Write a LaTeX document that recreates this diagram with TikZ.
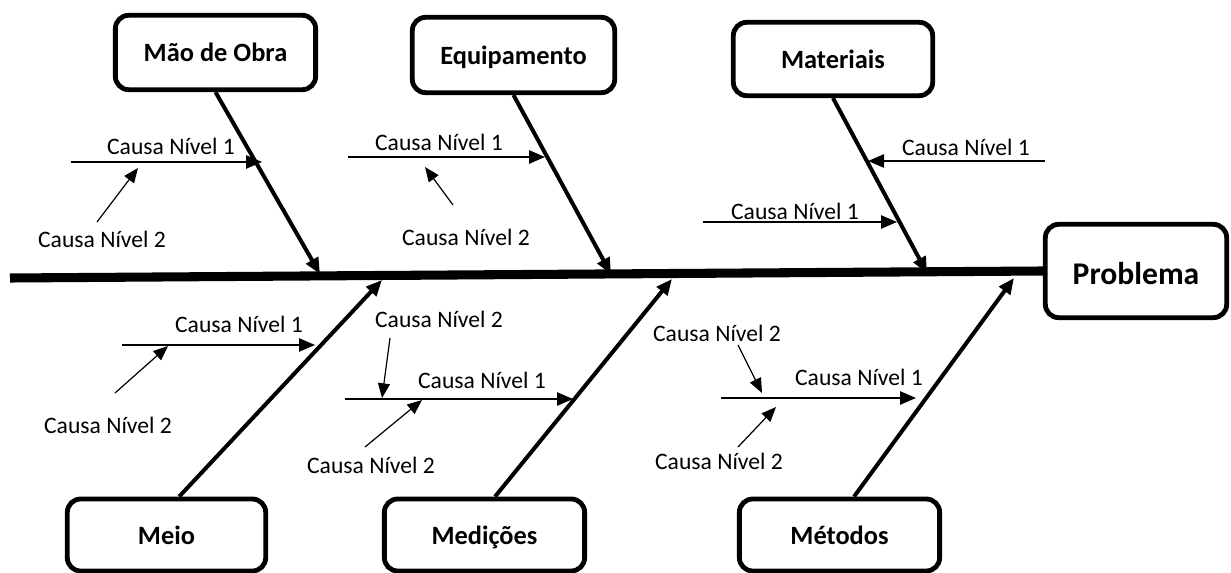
\documentclass[tikz,border=0pt]{standalone}
\usepackage{fontspec}
\setmainfont{Carlito}
\usetikzlibrary{arrows.meta}
\begin{document}
\begin{tikzpicture}[x=0.75pt,y=-0.75pt,
  catbox/.style={draw, line width=3.6pt, rounded corners=10pt, inner sep=0pt,
    text height=16pt, text depth=2pt,
    font=\fontsize{19.8}{22}\selectfont\bfseries},
  probbox/.style={catbox, text height=22pt, text depth=2pt,
    font=\fontsize{23.7}{26}\selectfont\bfseries},
  cause/.style={inner sep=0pt, anchor=base, font=\fontsize{17.7}{20}\selectfont},
  spine/.style={line width=6.8pt},
  bone/.style={line width=3pt, -{Triangle[length=12pt,width=10pt]}},
  lvlone/.style={line width=1.1pt, -{Triangle[length=12pt,width=10pt]}},
  lvltwo/.style={line width=0.9pt, -{Triangle[length=11pt,width=9pt]}},
]
\useasboundingbox (0,0) rectangle (1231,573);

% effect box and category boxes
\node[probbox, minimum width=136pt, minimum height=70pt] (prob) at (1136,271) {Problema};
\node[catbox, minimum width=150.2pt, minimum height=55.8pt] (mao) at (215.5,52.5) {Mão de Obra};
\node[catbox, minimum width=151.8pt, minimum height=56.5pt] (equip) at (513.5,55) {Equipamento};
\node[catbox, minimum width=149.5pt, minimum height=55pt] (mat) at (833,59) {Materiais};
\node[catbox, minimum width=148.8pt, minimum height=54pt] (meio) at (166.5,535) {Meio};
\node[catbox, minimum width=150.2pt, minimum height=54pt] (med) at (484.5,535) {Medições};
\node[catbox, minimum width=150.2pt, minimum height=54pt] (met) at (839.5,535) {Métodos};

% spine and the points where the bones meet it
\coordinate (tail) at (10,278);
\draw[spine] (tail) -- (prob.west);
\coordinate (j1) at (320,274);
\coordinate (j2) at (611,274);
\coordinate (j3) at (927,273);
\coordinate (j4) at (382,280);
\coordinate (j5) at (672,279);
\coordinate (j6) at (1014,278);

% main bones
\draw[bone] (mao.south) -- (j1);
\draw[bone] (equip.south) -- (j2);
\draw[bone] (mat.south) -- (j3);
\draw[bone] ([xshift=9.5pt]meio.north) -- (j4);
\draw[bone] ([xshift=7.9pt]med.north) -- (j5);
\draw[bone] ([xshift=10.9pt]met.north) -- (j6);

% Mão de Obra
\node[cause] (mc1) at (171,155) {Causa Nível 1};
\node[cause] (mc2) at (102,248) {Causa Nível 2};
\coordinate (ma0) at (71,162);  \coordinate (ma1) at (262,162);
\coordinate (mb0) at (97,222);  \coordinate (mb1) at (138,168);
\draw[lvlone] (ma0) -- (ma1);
\draw[lvltwo] (mb0) -- (mb1);

% Equipamento
\node[cause] (ec1) at (439,151) {Causa Nível 1};
\node[cause] (ec2) at (466,246) {Causa Nível 2};
\coordinate (ea0) at (348,157); \coordinate (ea1) at (545,157);
\coordinate (eb0) at (453,205); \coordinate (eb1) at (425,167);
\draw[lvlone] (ea0) -- (ea1);
\draw[lvltwo] (eb0) -- (eb1);

% Materiais
\node[cause] (tc1) at (966,156) {Causa Nível 1};
\node[cause] (tc2) at (795,220) {Causa Nível 1};
\coordinate (ta0) at (1045,161); \coordinate (ta1) at (868,161);
\coordinate (tb0) at (703,222);  \coordinate (tb1) at (897,222);
\draw[lvlone] (ta0) -- (ta1);
\draw[lvlone] (tb0) -- (tb1);

% Meio
\node[cause] (ic1) at (239,333) {Causa Nível 1};
\node[cause] (ic2) at (108,433) {Causa Nível 2};
\coordinate (ia0) at (122,345); \coordinate (ia1) at (315,345);
\coordinate (ib0) at (115,393); \coordinate (ib1) at (168,346);
\draw[lvlone] (ia0) -- (ia1);
\draw[lvltwo] (ib0) -- (ib1);

% Medições
\node[cause] (dc2) at (439,328) {Causa Nível 2};
\node[cause] (dc1) at (482,388) {Causa Nível 1};
\node[cause] (dc3) at (371,473) {Causa Nível 2};
\coordinate (da0) at (345,399); \coordinate (da1) at (573,399);
\coordinate (db0) at (390,338); \coordinate (db1) at (382,398);
\coordinate (dd0) at (365,447); \coordinate (dd1) at (422,400);
\draw[lvlone] (da0) -- (da1);
\draw[lvltwo] (db0) -- (db1);
\draw[lvltwo] (dd0) -- (dd1);

% Métodos
\node[cause] (oc2) at (717,342) {Causa Nível 2};
\node[cause] (oc1) at (859,386) {Causa Nível 1};
\node[cause] (oc3) at (719,469) {Causa Nível 2};
\coordinate (oa0) at (721,398); \coordinate (oa1) at (916,398);
\coordinate (ob0) at (738,345); \coordinate (ob1) at (762,393);
\coordinate (od0) at (738,447); \coordinate (od1) at (776,407);
\draw[lvlone] (oa0) -- (oa1);
\draw[lvltwo] (ob0) -- (ob1);
\draw[lvltwo] (od0) -- (od1);
\end{tikzpicture}
\end{document}
